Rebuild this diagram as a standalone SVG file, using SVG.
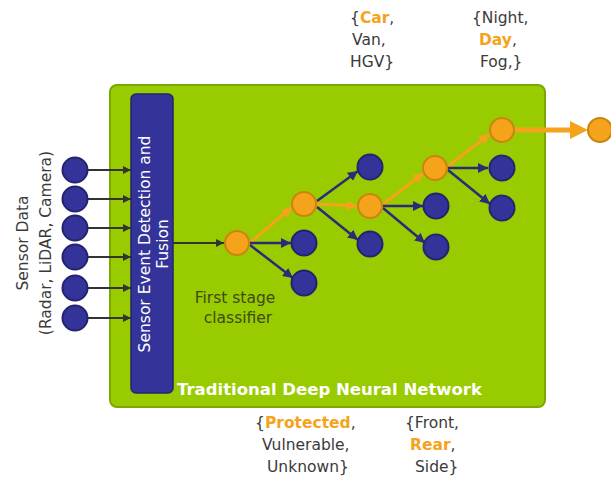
<svg xmlns="http://www.w3.org/2000/svg" width="611" height="481" viewBox="0 0 611 481">
  <defs>
    <marker id="ahDark" viewBox="0 0 10 10" refX="10" refY="5" markerWidth="4" markerHeight="4" orient="auto" markerUnits="strokeWidth">
      <path d="M0,0 L10,5 L0,10 z" fill="#333333"/>
    </marker>
    <marker id="ahNavy" viewBox="0 0 10 10" refX="10" refY="5" markerWidth="4" markerHeight="4" orient="auto" markerUnits="strokeWidth">
      <path d="M0,0 L10,5 L0,10 z" fill="#2b2b78"/>
    </marker>
    <marker id="ahOrange" viewBox="0 0 10 10" refX="10" refY="5" markerWidth="3.5" markerHeight="3.5" orient="auto" markerUnits="strokeWidth">
      <path d="M0,0 L10,5 L0,10 z" fill="#f5a31a"/>
    </marker>
  </defs>
  <style>
    text { font-family: "DejaVu Sans", Verdana, sans-serif; }
    .lbl { font-size: 15.5px; fill: #3a3a3a; }
    .hl { fill: #f5a31a; font-weight: bold; }
    .blue { fill: #333399; stroke: #24246e; stroke-width: 2; }
    .orange { fill: #f5a31a; stroke: #c8850f; stroke-width: 2; }
    .in { stroke: #333333; stroke-width: 2; fill: none; marker-end: url(#ahDark); }
    .nv { stroke: #2b2b78; stroke-width: 2.5; fill: none; marker-end: url(#ahNavy); }
    .or { stroke: #f5a31a; stroke-width: 3; fill: none; marker-end: url(#ahOrange); }
  </style>

  <!-- network container -->
  <g id="network-box">
    <rect x="110" y="85" width="435" height="322" rx="7" fill="#99cc00" stroke="#7aa800" stroke-width="2"/>
    <text x="177" y="395" font-size="16.5" font-weight="bold" fill="#ffffff">Traditional Deep Neural Network</text>
  </g>

  <!-- fusion stage -->
  <g id="fusion">
    <rect x="131" y="94" width="42" height="299" rx="5" fill="#333399" stroke="#24246e" stroke-width="1.5"/>
    <text transform="translate(150 244) rotate(-90)" text-anchor="middle" font-size="15.5" fill="#ffffff">Sensor Event Detection and</text>
    <text transform="translate(168 244) rotate(-90)" text-anchor="middle" font-size="15.5" fill="#ffffff">Fusion</text>
  </g>

  <!-- sensor inputs -->
  <g id="sensor-label">
    <text transform="translate(28 243) rotate(-90)" text-anchor="middle" class="lbl">Sensor Data</text>
    <text transform="translate(51 243) rotate(-90)" text-anchor="middle" class="lbl">(Radar, LiDAR, Camera)</text>
  </g>
  <g id="inputs">
    <circle class="blue" cx="75" cy="170" r="12.5"/>
    <circle class="blue" cx="75" cy="199" r="12.5"/>
    <circle class="blue" cx="75" cy="228" r="12.5"/>
    <circle class="blue" cx="75" cy="257" r="12.5"/>
    <circle class="blue" cx="75" cy="288" r="12.5"/>
    <circle class="blue" cx="75" cy="318" r="12.5"/>
  </g>

  <!-- connectors -->
  <g id="connectors">
    <line class="in" x1="88" y1="170" x2="131" y2="170"/>
    <line class="in" x1="88" y1="199" x2="131" y2="199"/>
    <line class="in" x1="88" y1="228" x2="131" y2="228"/>
    <line class="in" x1="88" y1="257" x2="131" y2="257"/>
    <line class="in" x1="88" y1="288" x2="131" y2="288"/>
    <line class="in" x1="88" y1="318" x2="131" y2="318"/>
    <line class="in" x1="173" y1="243" x2="224" y2="243"/>

    <!-- stage 1 -->
    <line class="or" x1="250" y1="243" x2="292" y2="207"/>
    <line class="nv" x1="250" y1="243" x2="291" y2="243"/>
    <line class="nv" x1="250" y1="245" x2="293" y2="278"/>
    <!-- stage 2 -->
    <line class="nv" x1="317" y1="201" x2="358" y2="171"/>
    <line class="or" x1="317" y1="204" x2="357" y2="206"/>
    <line class="nv" x1="317" y1="207" x2="358" y2="240"/>
    <!-- stage 3 -->
    <line class="or" x1="383" y1="204" x2="424" y2="173"/>
    <line class="nv" x1="383" y1="206" x2="423" y2="206"/>
    <line class="nv" x1="383" y1="208" x2="425" y2="243"/>
    <!-- stage 4 -->
    <line class="or" x1="448" y1="166" x2="490" y2="134"/>
    <line class="nv" x1="448" y1="168" x2="488" y2="168"/>
    <line class="nv" x1="448" y1="170" x2="490" y2="204"/>
    <!-- output -->
    <line x1="515" y1="130" x2="572" y2="130" stroke="#f5a31a" stroke-width="5"/>
    <path d="M570,121 L588,130 L570,139 z" fill="#f5a31a"/>
  </g>

  <!-- classifier nodes -->
  <g id="stage1">
    <circle class="orange" cx="237" cy="243" r="12"/>
    <circle class="blue" cx="304" cy="243" r="12.5"/>
    <circle class="blue" cx="304" cy="283" r="12.5"/>
  </g>
  <g id="stage2">
    <circle class="orange" cx="304" cy="204" r="12"/>
    <circle class="blue" cx="370" cy="167" r="12.5"/>
    <circle class="blue" cx="370" cy="244" r="12.5"/>
  </g>
  <g id="stage3">
    <circle class="orange" cx="370" cy="206" r="12"/>
    <circle class="blue" cx="436" cy="206" r="12.5"/>
    <circle class="blue" cx="436" cy="247" r="12.5"/>
  </g>
  <g id="stage4">
    <circle class="orange" cx="435" cy="168" r="12"/>
    <circle class="blue" cx="502" cy="168" r="12.5"/>
    <circle class="blue" cx="502" cy="208" r="12.5"/>
  </g>
  <g id="stage5">
    <circle class="orange" cx="502" cy="130" r="12"/>
  </g>
  <g id="output">
    <circle class="orange" cx="600" cy="130" r="12"/>
  </g>

  <!-- labels -->
  <g id="first-stage-label">
    <text x="235" y="303" text-anchor="middle" font-size="15.5" fill="#3d4a18">First stage</text>
    <text x="238" y="323" text-anchor="middle" font-size="15.5" fill="#3d4a18">classifier</text>
  </g>
  <g id="vehicle-type">
    <text class="lbl" x="350" y="23">{<tspan class="hl">Car</tspan>,</text>
    <text class="lbl" x="352" y="45">Van,</text>
    <text class="lbl" x="350" y="67">HGV}</text>
  </g>
  <g id="condition">
    <text class="lbl" x="472" y="23">{Night,</text>
    <text class="lbl" x="479" y="45"><tspan class="hl">Day</tspan>,</text>
    <text class="lbl" x="480" y="67">Fog,}</text>
  </g>
  <g id="road-user">
    <text class="lbl" x="255" y="428">{<tspan class="hl">Protected</tspan>,</text>
    <text class="lbl" x="262" y="450">Vulnerable,</text>
    <text class="lbl" x="267" y="472">Unknown}</text>
  </g>
  <g id="orientation">
    <text class="lbl" x="405" y="428">{Front,</text>
    <text class="lbl" x="410" y="450"><tspan class="hl">Rear</tspan>,</text>
    <text class="lbl" x="415" y="472">Side}</text>
  </g>
</svg>
